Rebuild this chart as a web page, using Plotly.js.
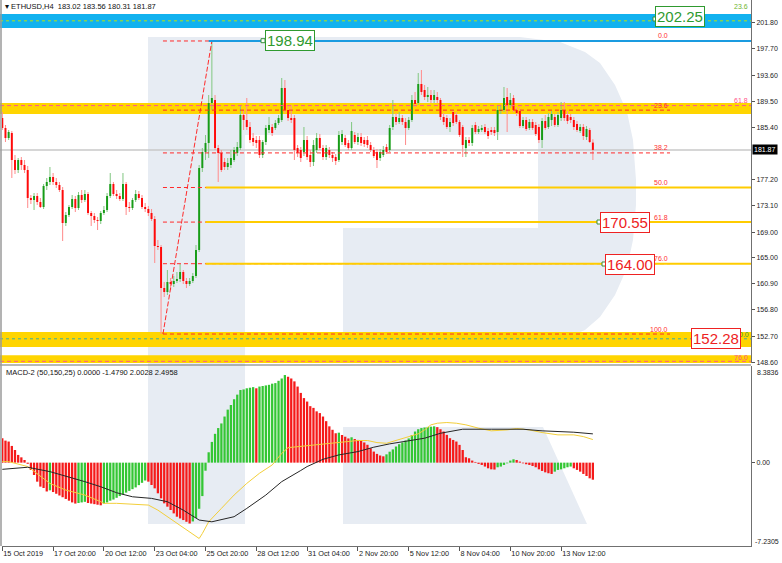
<!DOCTYPE html>
<html><head><meta charset="utf-8">
<script src="https://cdn.plot.ly/plotly-3.0.1.min.js"></script>
<style>html,body{margin:0;padding:0;background:#fff}#chart{width:782px;height:563px}</style>
</head><body><div id="chart"></div>
<script>
// ---------------- DATA ----------------
const startTime = "2019-10-15T04:00:00Z"; // first H4 bar
const barHours = 4;
const open = [
186.87,185.31,183.74,184.52,180.29,178.73,180.29,179.51,178.73,174.34,
174.03,174.65,173.71,172.93,176.22,176.85,177.63,176.85,176.38,175.59,
170.42,171.68,172.93,174.18,172.77,174.81,174.03,174.97,171.99,171.52,
170.89,170.74,171.99,172.46,174.65,176.53,174.97,174.65,174.18,176.53,
172.93,172.77,174.03,174.97,174.34,172.93,172.62,171.99,171.05,166.82,
166.66,160.24,159.61,161.18,160.87,161.34,161.65,162.75,161.34,160.87,
161.34,162.12,166.19,179.04,181.55,182.96,189.22,189.69,182.17,181.39,
179.98,179.20,179.51,180.29,181.39,182.17,187.34,186.56,185.46,183.74,
183.43,183.43,181.08,183.11,184.99,185.46,185.31,186.09,186.56,191.57,
188.13,186.87,186.87,182.17,181.86,181.55,183.43,181.08,179.98,181.86,
183.74,182.17,180.76,181.86,181.08,180.76,180.29,183.11,183.74,182.96,
182.17,184.21,183.11,183.90,183.43,183.43,182.64,181.86,181.55,180.61,
181.08,182.33,181.86,185.46,187.03,186.25,186.87,186.25,185.31,186.56,
189.69,189.22,192.20,191.26,190.16,190.48,189.69,190.16,189.69,187.03,
186.87,185.46,187.81,187.34,186.25,185.46,182.17,183.43,182.96,185.78,
184.68,184.99,185.46,184.84,184.99,184.99,184.68,187.97,188.13,190.16,
188.91,190.01,188.13,187.97,185.62,186.56,185.31,186.25,185.78,185.46,
183.43,186.40,185.46,186.56,187.03,185.78,186.87,188.13,187.34,187.03,
186.56,185.93,184.84,185.46,183.90,184.99,183.02];
const high = [
187.81,185.78,184.99,184.84,181.08,180.61,180.76,180.29,179.35,174.81,
175.12,175.12,174.34,176.53,177.47,179.20,178.26,177.47,176.85,176.06,
172.15,173.24,174.81,174.65,175.28,175.59,175.59,175.28,172.30,171.99,
171.36,172.30,173.09,175.12,178.26,176.85,175.59,175.12,178.26,176.85,
173.71,174.34,175.59,175.44,174.81,173.56,173.09,172.62,171.52,167.76,
166.98,161.18,163.06,161.81,162.12,162.75,164.00,163.06,161.81,161.81,
162.59,166.98,179.51,182.17,184.21,190.48,198.94,190.48,182.64,181.86,
180.61,180.61,181.86,182.33,183.11,188.91,188.13,190.01,186.25,184.52,
184.05,184.05,183.43,185.78,187.03,185.93,186.56,187.34,193.14,192.83,
188.75,188.91,187.34,182.64,182.33,185.46,184.05,181.86,183.43,184.52,
184.37,182.64,182.64,182.33,181.55,181.23,184.84,184.99,184.21,183.43,
186.25,184.68,184.52,184.52,183.90,184.05,183.11,182.33,182.02,182.02,
182.49,182.80,185.78,189.69,187.66,187.81,187.34,186.87,187.03,190.48,
190.95,193.92,194.39,192.04,191.73,191.26,191.26,190.95,190.01,187.66,
187.34,186.87,188.13,187.81,186.56,185.78,183.90,183.90,185.78,186.25,
185.62,185.78,185.93,185.31,185.46,185.46,188.75,188.91,191.73,191.57,
190.79,190.48,188.60,188.44,187.03,187.03,186.72,186.72,186.25,185.93,
186.87,187.34,187.66,187.97,187.50,187.81,189.38,189.38,187.97,187.50,
187.03,186.40,185.93,185.93,185.62,185.31,183.56];
const low = [
184.99,183.11,183.43,177.47,178.10,178.26,178.73,178.26,172.77,173.40,
172.46,173.24,172.77,172.62,175.59,176.38,176.38,175.91,175.28,167.60,
169.95,171.36,172.62,172.15,172.46,173.56,173.71,171.68,169.95,170.42,
169.33,170.27,171.68,172.15,174.34,174.65,174.18,173.87,173.87,171.68,
172.15,172.46,173.71,174.03,172.62,172.15,171.52,170.74,164.16,166.19,
153.03,158.83,159.14,159.93,160.40,161.02,161.18,160.87,160.24,160.55,
161.02,161.81,165.88,178.41,180.29,180.61,188.13,181.86,176.85,178.41,
178.73,178.73,179.04,179.98,180.92,181.86,184.99,184.99,182.96,182.49,
182.17,180.61,180.61,182.64,184.52,184.05,184.99,185.78,186.25,187.66,
186.40,186.09,180.29,180.76,179.98,180.92,180.29,179.20,179.35,181.39,
181.86,180.29,180.29,180.61,179.98,179.51,179.98,182.64,182.33,181.86,
181.86,182.80,182.64,182.49,182.33,182.17,181.55,180.61,179.04,180.14,
180.76,181.23,181.55,184.99,185.78,185.93,185.78,182.64,184.99,186.25,
188.60,188.91,190.48,189.69,189.38,189.22,189.22,189.22,186.56,185.78,
185.15,184.68,185.62,185.93,183.90,180.76,180.76,182.49,182.49,184.37,
184.37,184.68,184.37,183.58,184.21,184.05,183.43,187.50,187.81,184.68,
188.44,187.81,187.19,185.31,185.31,184.84,184.99,184.99,184.05,182.96,
182.17,184.99,185.15,185.62,185.46,185.46,186.40,186.40,185.93,186.09,
184.99,184.68,184.52,183.43,183.43,182.96,180.31];
const close = [
185.31,183.74,184.68,180.29,178.73,180.29,179.51,178.73,174.34,174.03,
174.65,173.71,172.93,176.22,176.85,177.63,176.85,176.38,175.59,170.42,
171.68,172.93,174.18,172.77,174.81,174.03,174.97,171.99,171.52,170.89,
170.74,171.99,172.46,174.65,176.53,174.97,174.65,174.18,176.53,172.93,
172.77,174.03,174.97,174.34,172.93,172.62,171.99,171.05,166.82,166.66,
160.24,159.61,161.18,160.87,161.34,161.65,162.75,161.34,160.87,161.34,
162.12,166.19,179.04,181.55,182.96,189.22,190.01,182.17,181.39,178.73,
179.20,179.82,180.61,181.86,182.33,187.34,186.56,185.46,183.43,183.11,
182.96,181.08,183.11,185.31,185.78,184.52,186.09,186.87,191.57,188.13,
186.87,186.56,181.86,181.39,180.61,183.43,180.76,179.98,182.64,183.74,
182.17,180.76,182.17,181.08,180.61,180.14,184.21,184.37,182.64,182.17,
184.84,183.11,183.90,182.96,182.80,182.64,181.86,180.92,180.29,181.55,
181.86,181.55,185.31,187.03,186.25,186.87,186.25,185.31,186.56,189.69,
189.07,192.20,190.95,190.16,190.48,189.69,190.48,189.69,187.03,186.25,
185.46,186.25,186.09,186.25,184.21,182.64,183.43,182.96,185.31,184.68,
185.15,185.31,184.68,184.05,184.68,184.52,188.13,188.13,190.01,188.91,
189.69,188.13,187.66,185.62,186.56,185.15,186.25,185.31,184.37,183.43,
186.40,185.31,187.03,187.50,185.78,187.34,188.13,186.87,186.40,186.56,
185.46,184.99,185.46,184.05,185.15,183.11,181.87];

const macdHist = [
2.12,1.91,1.83,1.45,1.10,0.67,0.46,0.23,-0.10,-0.64,
-1.07,-1.65,-2.08,-2.20,-2.50,-2.40,-2.55,-2.70,-2.85,-3.00,
-3.15,-3.30,-3.45,-3.55,-3.50,-3.45,-3.40,-3.50,-3.55,-3.60,
-3.65,-3.70,-3.55,-3.45,-3.30,-3.20,-3.05,-2.90,-2.75,-2.60,
-2.45,-2.30,-2.15,-1.95,-1.75,-1.55,-1.65,-1.94,-2.23,-2.66,
-3.10,-3.53,-3.82,-4.11,-4.40,-4.69,-4.84,-4.98,-5.13,-5.28,
-5.10,-4.80,-4.00,-2.90,-0.70,0.90,1.80,2.50,3.00,3.40,
4.00,4.60,5.00,5.50,5.90,6.30,6.35,6.45,6.50,6.55,
6.45,6.60,6.65,6.70,6.75,6.85,6.90,7.10,7.30,7.60,
7.45,7.30,7.05,6.60,6.05,5.60,5.30,4.90,4.75,4.45,
4.30,4.00,3.60,3.15,2.85,2.55,2.60,2.40,2.25,2.10,
2.20,2.05,1.97,1.92,1.75,1.55,1.25,0.96,0.76,0.62,
0.55,0.72,0.95,1.15,1.40,1.60,1.75,1.92,2.10,2.40,
2.70,2.90,3.00,3.05,3.10,3.12,3.15,3.08,2.90,2.70,
2.41,2.12,1.97,1.83,1.54,1.10,0.47,0.38,0.18,0.06,
-0.11,-0.20,-0.34,-0.49,-0.58,-0.60,-0.40,-0.34,-0.20,-0.06,
0.18,0.29,0.23,0.09,-0.06,-0.14,-0.20,-0.29,-0.40,-0.58,
-0.72,-0.84,-0.92,-0.98,-0.78,-0.63,-0.58,-0.49,-0.40,-0.34,
-0.49,-0.63,-0.78,-0.98,-1.16,-1.36,-1.479];

// black MACD line, read at selected bars
const macdLineBars = [0,8,15,20,26,31,36,41,47,52,57,62,66,73,77,83,88,94,96,101,106,112,117,122,127,133,138,143,145,154,164,170,175,180,186];
const macdLineVals = [-0.58,-0.40,-0.78,-1.16,-1.65,-2.09,-2.61,-2.96,-3.10,-3.39,-4.12,-4.98,-5.13,-4.69,-3.97,-2.81,-1.65,-0.68,-0.34,0.29,0.67,0.96,1.34,1.63,1.83,2.12,2.55,2.84,2.90,2.90,2.90,2.76,2.70,2.64,2.4958];
// yellow signal line, read at selected bars
const signalBars = [0,2,8,10,13,15,20,26,31,32,36,41,46,49,52,55,58,62,63,65,69,73,77,81,85,88,90,93,96,101,106,112,115,118,121,124,127,131,133,135,137,140,143,146,150,154,159,162,166,170,175,180,183,186];
const signalVals = [0.09,0.09,-0.34,-0.78,-1.36,-1.80,-2.38,-2.81,-3.39,-3.53,-3.53,-3.60,-3.68,-4.12,-4.69,-5.27,-5.86,-6.58,-6.15,-5.13,-3.97,-2.81,-1.80,-0.92,-0.20,0.80,1.30,1.39,1.45,1.63,1.74,1.92,1.92,1.74,1.68,1.92,2.12,2.50,2.84,3.28,3.42,3.48,3.42,3.28,2.99,2.76,2.84,2.96,2.84,2.61,2.41,2.41,2.26,2.0028];

const xTickBars = [0,16,32,48,64,80,96,112,128,144,160,176];
const xTickText = ["15 Oct 2019","17 Oct 20:00","20 Oct 12:00","23 Oct 04:00","25 Oct 20:00","28 Oct 12:00","31 Oct 04:00","2 Nov 20:00","5 Nov 12:00","8 Nov 04:00","10 Nov 20:00","13 Nov 12:00"];
const yTickVals = [201.80,197.70,193.60,189.50,185.40,177.20,173.10,169.00,165.00,160.90,156.80,152.70,148.60];
const lastPrice = 181.87;

// Fibonacci retracement (red)
const fibHigh = 198.94, fibLow = 153.03;
const fibHighBar = 66, fibLowBar = 50.6;
const fibRatios = [0, 0.236, 0.382, 0.5, 0.618, 0.76, 1.0];
const fibLabels = ["0.0","23.6","38.2","50.0","61.8","76.0","100.0"];
// price level boxes
const priceBoxes = [
  {text:"202.25", price:202.75, xpx:680, color:"#2f9a2f"},
  {text:"198.94", price:198.94, xpx:289.5, color:"#2f9a2f"},
  {text:"170.55", price:170.55, xpx:625, color:"#ee2222"},
  {text:"164.00", price:164.00, xpx:630, color:"#ee2222"},
  {text:"152.28", price:152.28, xpx:716, color:"#ee2222"}
];
// zones
const blueZone = [200.97, 203.17];
const yellowZones = [[187.50, 189.22],[151.00, 153.35],[148.49, 149.70]];

// ---------------- HELPERS ----------------
const W = 782, HT = 563;
const t0 = Date.parse(startTime), STEP = barHours*3600*1000;
const T = i => t0 + i*STEP;
const px = x => x/W, py = y => 1 - y/HT;
const FONT = "Liberation Sans, Arial, sans-serif";
const DASH = "4px,3px";

const xs = open.map((_, i) => T(i));
const up = open.map((o, i) => close[i] >= o);

const traces = [
  { type:"bar", x:xs, base:low, y:high.map((h,i)=>h-low[i]), width:STEP*0.33,
    marker:{color:up.map(u=>u?"#86c986":"#ff8f8f"), line:{width:0}}, hoverinfo:"skip", xaxis:"x", yaxis:"y" },
  { type:"bar", x:xs, base:open.map((o,i)=>Math.min(o,close[i])),
    y:open.map((o,i)=>Math.max(Math.abs(close[i]-o),0.12)), width:STEP*0.62,
    marker:{color:up.map(u=>u?"#179c17":"#ff0a0a"), line:{width:0}}, hoverinfo:"skip", xaxis:"x", yaxis:"y" },
  { type:"bar", x:xs, y:macdHist, width:STEP*0.72,
    marker:{color:macdHist.map((v,i)=> i===0 ? "#f51a1a" : (v>macdHist[i-1] ? "#34c634" : "#f51a1a")), line:{width:0}},
    hoverinfo:"skip", xaxis:"x", yaxis:"y2" },
  { type:"scatter", mode:"lines", x:signalBars.map(T), y:signalVals, line:{color:"#f3cf3a", width:1},
    hoverinfo:"skip", xaxis:"x", yaxis:"y2" },
  { type:"scatter", mode:"lines", x:macdLineBars.map(T), y:macdLineVals, line:{color:"#262626", width:1},
    hoverinfo:"skip", xaxis:"x", yaxis:"y2" }
];

// ---------------- SHAPES ----------------
const shapes = [];
const wm = "#e7ecf3";
function pathPx(pts){ return "M" + pts.map(p=>px(p[0]).toFixed(5)+","+py(p[1]).toFixed(5)).join(" L") + " Z"; }
// watermark "R"
shapes.push({type:"path", xref:"paper", yref:"paper", layer:"below", fillcolor:wm, line:{width:0},
  path: pathPx([[148,37],[245,37],[245,524],[148,524]])});
shapes.push({type:"path", xref:"paper", yref:"paper", layer:"below", fillcolor:wm, line:{width:0},
  path: pathPx([[245,37],[520,37],[560,42],[585,52],[600,63],[615,85],[627,112],[633,140],[636,180],[636,205],[633,240],[627,268],[615,295],[600,317],[585,330],[560,340],[520,345],[343,345],[343,228],[538,228],[538,135],[245,135]])});
shapes.push({type:"path", xref:"paper", yref:"paper", layer:"below", fillcolor:wm, line:{width:0},
  path: pathPx([[343,427],[543,427],[587,524],[343,524]])});

// zones
shapes.push({type:"rect", xref:"paper", yref:"y", x0:0, x1:px(751), y0:blueZone[0], y1:blueZone[1], fillcolor:"#12b2ef", line:{width:0}, layer:"below"});
yellowZones.forEach(z => shapes.push({type:"rect", xref:"paper", yref:"y", x0:0, x1:px(751), y0:z[0], y1:z[1], fillcolor:"#ffd500", line:{width:0}, layer:"below"}));
// bid line
shapes.push({type:"line", xref:"paper", yref:"y", x0:0, x1:px(751), y0:lastPrice, y1:lastPrice, line:{color:"#c9c9c9", width:1.5}, layer:"below"});
// green dotted in blue zone, teal dotted in bottom zone
shapes.push({type:"line", xref:"paper", yref:"y", x0:0, x1:px(751), y0:202.1, y1:202.1, line:{color:"#7fd35a", width:1.5, dash:"dot"}});
shapes.push({type:"line", xref:"paper", yref:"y", x0:0, x1:px(751), y0:152.28, y1:152.28, line:{color:"#3fae9a", width:1, dash:"dot"}});
// pink dashed levels
shapes.push({type:"line", xref:"paper", yref:"y", x0:0, x1:px(751), y0:188.82, y1:188.82, line:{color:"#ff5a8a", width:1, dash:DASH}});
shapes.push({type:"line", xref:"paper", yref:"y", x0:0, x1:px(751), y0:148.75, y1:148.75, line:{color:"#ff5a8a", width:1, dash:DASH}});
// red fib levels
const fibLevels = fibRatios.map(r => fibHigh - r*(fibHigh - fibLow));
fibLevels.forEach(v => shapes.push({type:"line", xref:"x", yref:"y", x0:T(fibLowBar), x1:T(210.3), y0:v, y1:v, line:{color:"#ff2a2a", width:1, dash:DASH}}));
shapes.push({type:"line", xref:"x", yref:"y", x0:T(fibLowBar), x1:T(fibHighBar), y0:fibLow, y1:fibHigh, line:{color:"#ff2a2a", width:1, dash:"5px,2px"}});
// yellow solid lines at 50 / 61.8 / 76
[3,4,5].forEach(k => shapes.push({type:"line", xref:"x", yref:"y", x0:T(64), x1:T(236), y0:fibLevels[k], y1:fibLevels[k], line:{color:"#ffcc00", width:2}}));
// blue line at high
shapes.push({type:"line", xref:"x", yref:"y", x0:T(65), x1:T(236), y0:fibHigh, y1:fibHigh, line:{color:"#1a9be0", width:2}});
// small anchor squares at the labelled levels
[[263,40.7],[599,222],[604,264],[655,19]].forEach(p => shapes.push({type:"rect", xref:"paper", yref:"paper",
  x0:px(p[0]-2), x1:px(p[0]+2), y0:py(p[1]+2), y1:py(p[1]-2), line:{color:"#3a8f3a", width:1}, fillcolor:"#ffffff"}));
// panel borders
shapes.push({type:"line", xref:"paper", yref:"paper", x0:0, x1:px(751), y0:py(365), y1:py(365), line:{color:"#707070", width:1}});
shapes.push({type:"line", xref:"paper", yref:"paper", x0:px(1), x1:px(1), y0:py(0), y1:py(546), line:{color:"#9a9a9a", width:1.5}});

// ---------------- ANNOTATIONS ----------------
const ann = [];
ann.push({xref:"paper", yref:"paper", x:px(3), y:py(7), xanchor:"left", yanchor:"middle", showarrow:false,
  text:"▾ ETHUSD,H4  183.02 183.56 180.31 181.87", font:{family:FONT, size:7.5, color:"#111"}});
ann.push({xref:"paper", yref:"paper", x:px(4), y:py(372), xanchor:"left", yanchor:"middle", showarrow:false,
  text:"MACD-2 (50,150,25) 0.0000 -1.4790 2.0028 2.4958", font:{family:FONT, size:7.5, color:"#111"}});
fibLevels.forEach((v,k) => ann.push({xref:"paper", yref:"y", x:px(670), y:v, yshift:5, xanchor:"right", yanchor:"middle", showarrow:false,
  text:fibLabels[k], font:{family:FONT, size:7, color:"#ff3030"}}));
ann.push({xref:"paper", yref:"paper", x:px(750), y:py(6), xanchor:"right", yanchor:"middle", showarrow:false, text:"23.6", font:{family:FONT, size:7, color:"#6fb52f"}});
ann.push({xref:"paper", yref:"paper", x:px(750), y:py(100.5), xanchor:"right", yanchor:"middle", showarrow:false, text:"61.8", font:{family:FONT, size:7, color:"#ff4f86"}});
ann.push({xref:"paper", yref:"paper", x:px(750), y:py(357.5), xanchor:"right", yanchor:"middle", showarrow:false, text:"76.0", font:{family:FONT, size:7, color:"#ff4f86"}});
ann.push({xref:"paper", yref:"paper", x:px(751), y:py(334.5), xanchor:"right", yanchor:"middle", showarrow:false, text:"0.0", font:{family:FONT, size:7, color:"#3aa03a"}});
priceBoxes.forEach(b => ann.push({xref:"paper", yref:"y", x:px(b.xpx), y:b.price, xanchor:"center", yanchor:"middle", showarrow:false,
  text:b.text, font:{family:FONT, size:15, color:b.color}, bgcolor:"#ffffff", bordercolor:b.color, borderwidth:1, borderpad:1}));
ann.push({xref:"paper", yref:"y", x:px(752), y:lastPrice, xanchor:"left", yanchor:"middle", showarrow:false,
  text:"181.87", font:{family:FONT, size:7, color:"#ffffff"}, bgcolor:"#000000", borderpad:1});
ann.push({xref:"paper", yref:"paper", x:px(755), y:py(372), xanchor:"left", yanchor:"middle", showarrow:false, text:"8.3836", font:{family:FONT, size:7, color:"#222"}});
ann.push({xref:"paper", yref:"paper", x:px(753), y:py(541), xanchor:"left", yanchor:"middle", showarrow:false, text:"-7.2305", font:{family:FONT, size:7, color:"#222"}});

const layout = {
  width:W, height:HT, margin:{l:0, r:0, t:0, b:0},
  paper_bgcolor:"#ffffff", plot_bgcolor:"rgba(0,0,0,0)",
  showlegend:false, barmode:"overlay", hovermode:false,
  xaxis:{type:"date", domain:[px(2), px(751)], anchor:"y2", range:[T(-0.094), T(235.8)],
    tickmode:"array", tickvals:xTickBars.map(T), ticktext:xTickText, tickangle:0, ticks:"outside", ticklen:4, tickcolor:"#555",
    ticklabelposition:"outside right", tickfont:{family:FONT, size:7.3, color:"#222"},
    showgrid:false, zeroline:false, showline:true, linecolor:"#707070", linewidth:1},
  yaxis:{domain:[py(363), 1], range:[148.49, 205.36], side:"right", anchor:"x",
    tickmode:"array", tickvals:yTickVals, ticktext:yTickVals.map(v=>v.toFixed(2)), ticks:"outside", ticklen:3, tickcolor:"#555",
    tickfont:{family:FONT, size:7, color:"#222"}, showgrid:false, zeroline:false, showline:true, linecolor:"#707070", linewidth:1},
  yaxis2:{domain:[py(546), py(366)], range:[-7.2305, 8.3836], side:"right", anchor:"x",
    tickmode:"array", tickvals:[0], ticktext:["0.00"], ticks:"outside", ticklen:3, tickcolor:"#555",
    tickfont:{family:FONT, size:7, color:"#222"}, showgrid:false, zeroline:false, showline:true, linecolor:"#707070", linewidth:1},
  shapes:shapes, annotations:ann
};
Plotly.newPlot("chart", traces, layout, {displayModeBar:false, staticPlot:true});
</script></body></html>
